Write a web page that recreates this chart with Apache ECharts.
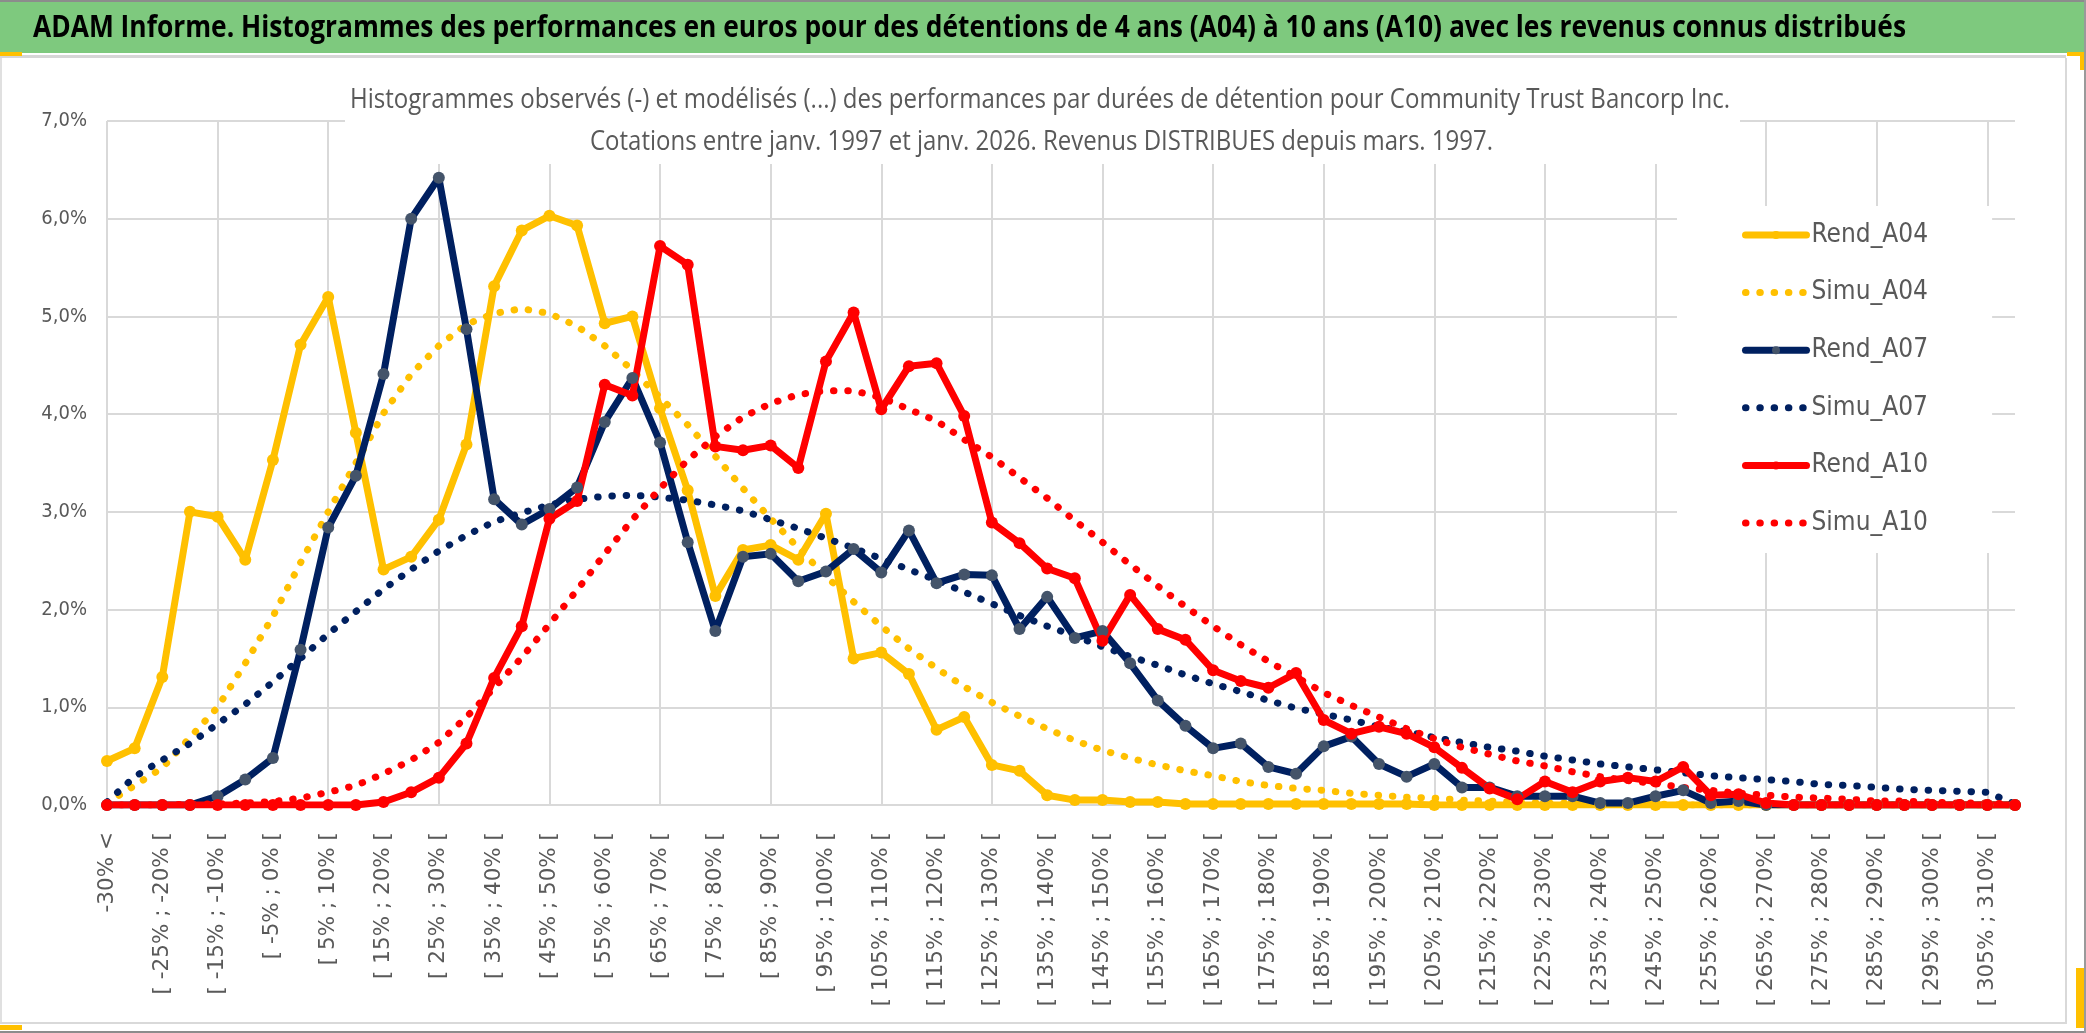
<!DOCTYPE html>
<html>
<head>
<meta charset="utf-8">
<script src="https://cdn.jsdelivr.net/npm/echarts@6/dist/echarts.min.js"></script>
<style>
html,body{margin:0;padding:0;background:#fff;}
#chart{width:2086px;height:1033px;}
</style>
</head>
<body>
<div id="chart"></div>
<script>
var categories = ["-30% <","[ -30% ; -25% [","[ -25% ; -20% [","[ -20% ; -15% [","[ -15% ; -10% [","[ -10% ; -5% [","[ -5% ; 0% [","[ 0% ; 5% [","[ 5% ; 10% [","[ 10% ; 15% [",
"[ 15% ; 20% [","[ 20% ; 25% [","[ 25% ; 30% [","[ 30% ; 35% [","[ 35% ; 40% [","[ 40% ; 45% [","[ 45% ; 50% [","[ 50% ; 55% [","[ 55% ; 60% [","[ 60% ; 65% [",
"[ 65% ; 70% [","[ 70% ; 75% [","[ 75% ; 80% [","[ 80% ; 85% [","[ 85% ; 90% [","[ 90% ; 95% [","[ 95% ; 100% [","[ 100% ; 105% [","[ 105% ; 110% [","[ 110% ; 115% [",
"[ 115% ; 120% [","[ 120% ; 125% [","[ 125% ; 130% [","[ 130% ; 135% [","[ 135% ; 140% [","[ 140% ; 145% [","[ 145% ; 150% [","[ 150% ; 155% [","[ 155% ; 160% [","[ 160% ; 165% [",
"[ 165% ; 170% [","[ 170% ; 175% [","[ 175% ; 180% [","[ 180% ; 185% [","[ 185% ; 190% [","[ 190% ; 195% [","[ 195% ; 200% [","[ 200% ; 205% [","[ 205% ; 210% [","[ 210% ; 215% [",
"[ 215% ; 220% [","[ 220% ; 225% [","[ 225% ; 230% [","[ 230% ; 235% [","[ 235% ; 240% [","[ 240% ; 245% [","[ 245% ; 250% [","[ 250% ; 255% [","[ 255% ; 260% [","[ 260% ; 265% [",
"[ 265% ; 270% [","[ 270% ; 275% [","[ 275% ; 280% [","[ 280% ; 285% [","[ 285% ; 290% [","[ 290% ; 295% [","[ 295% ; 300% [","[ 300% ; 305% [","[ 305% ; 310% [","> 310%"];

var rendA04 = [0.45,0.58,1.31,3.00,2.95,2.51,3.53,4.71,5.20,3.81,
2.41,2.54,2.92,3.69,5.31,5.88,6.03,5.93,4.93,5.00,
4.06,3.22,2.14,2.61,2.66,2.51,2.98,1.50,1.56,1.34,
0.77,0.90,0.41,0.35,0.10,0.05,0.05,0.03,0.03,0.01,
0.01,0.01,0.01,0.01,0.01,0.01,0.01,0.01,0,0,
0,0,0,0,0,0,0,0,0,0,
0,0,0,0,0,0,0,0,0,0];

var simuA04 = [0.02,0.20,0.38,0.69,1.00,1.45,1.93,2.48,3.00,3.50,
4.01,4.41,4.70,4.92,5.03,5.08,5.03,4.90,4.70,4.45,
4.17,3.89,3.57,3.24,2.93,2.63,2.34,2.08,1.83,1.60,
1.40,1.21,1.05,0.91,0.78,0.66,0.56,0.48,0.41,0.35,
0.30,0.24,0.20,0.17,0.15,0.12,0.10,0.08,0.07,0.05,
0.04,0.03,0.02,0.02,0.01,0.01,0.01,0,0,0,
0,0,0,0,0,0,0,0,0,0];

var rendA07 = [0,0,0,0,0.09,0.26,0.48,1.59,2.84,3.37,
4.41,6.00,6.42,4.87,3.13,2.87,3.03,3.25,3.92,4.37,
3.71,2.69,1.78,2.54,2.57,2.29,2.39,2.62,2.38,2.81,
2.27,2.36,2.35,1.80,2.13,1.71,1.78,1.45,1.07,0.81,
0.58,0.63,0.39,0.32,0.60,0.70,0.42,0.29,0.42,0.18,
0.18,0.09,0.09,0.09,0.02,0.02,0.09,0.15,0.02,0.04,
0,0,0,0,0,0,0,0,0,0];

var simuA07 = [0.03,0.29,0.46,0.63,0.83,1.03,1.26,1.50,1.75,1.98,
2.21,2.41,2.60,2.76,2.90,2.99,3.07,3.13,3.16,3.17,
3.15,3.12,3.07,3.01,2.92,2.83,2.73,2.63,2.52,2.41,
2.30,2.18,2.06,1.94,1.83,1.73,1.62,1.52,1.43,1.33,
1.24,1.16,1.07,0.99,0.93,0.87,0.80,0.75,0.69,0.64,
0.59,0.55,0.50,0.46,0.42,0.39,0.36,0.33,0.30,0.28,
0.26,0.24,0.21,0.20,0.18,0.16,0.15,0.14,0.13,0.01];

var rendA10 = [0,0,0,0,0,0,0,0,0,0,
0.03,0.13,0.28,0.63,1.30,1.83,2.93,3.11,4.30,4.19,
5.72,5.53,3.67,3.63,3.68,3.45,4.54,5.04,4.05,4.49,
4.52,3.98,2.89,2.68,2.42,2.32,1.68,2.15,1.80,1.69,
1.38,1.27,1.20,1.35,0.87,0.73,0.80,0.73,0.59,0.38,
0.17,0.06,0.24,0.13,0.24,0.28,0.24,0.39,0.10,0.11,
0.02,0,0,0,0,0,0,0,0,0];

var simuA10 = [0,0,0,0.01,0.01,0.02,0.035,0.07,0.13,0.20,
0.32,0.46,0.64,0.90,1.20,1.51,1.85,2.20,2.57,2.92,
3.24,3.53,3.77,3.97,4.11,4.20,4.24,4.24,4.17,4.05,
3.93,3.74,3.56,3.35,3.14,2.91,2.69,2.46,2.24,2.03,
1.83,1.64,1.47,1.31,1.15,1.02,0.90,0.78,0.68,0.59,
0.52,0.45,0.40,0.34,0.29,0.25,0.22,0.18,0.15,0.12,
0.10,0.08,0.07,0.06,0.04,0.04,0.03,0.02,0.02,0.01];

var yTicks = [0,1,2,3,4,5,6,7];

var mainTitle = 'ADAM Informe. Histogrammes des performances en euros pour des détentions de 4 ans (A04) à 10 ans (A10) avec les revenus connus distribués';
var subTitle1 = 'Histogrammes observés (-) et modélisés (...) des performances par durées de détention pour Community Trust Bancorp Inc.';
var subTitle2 = 'Cotations entre janv. 1997 et janv. 2026. Revenus DISTRIBUES depuis mars. 1997.';

var NARROW = "'DejaVu Sans Condensed','Liberation Sans Narrow',sans-serif";
var HUMAN = "'Open Sans'";
var GRAY = '#595959';
var GRID = '#D9D9D9';
var YEL = '#FFC000', NAVY = '#002060', NAVYMK = '#44546A', RED = '#FF0000';

// horizontal squeeze so that text of a regular font occupies the width of the original condensed font
var measureCtx = document.createElement('canvas').getContext('2d');
function fitScale(text, font, targetWidth) {
  measureCtx.font = font;
  var w = measureCtx.measureText(text).width;
  return w > 0 ? targetWidth / w : 1;
}
var sMain = fitScale(mainTitle, 'bold 31px ' + HUMAN, 1873);
var sSub1 = fitScale(subTitle1, '28px ' + HUMAN, 1380);
var sSub2 = fitScale(subTitle2, '28px ' + HUMAN, 903);

function txt(text, x, y, scale, size, weight, color, align) {
  return {
    type: 'text', x: x, y: y, scaleX: scale, scaleY: 1, z: 20,
    style: {
      text: text, fontFamily: HUMAN, fontSize: size, fontWeight: weight, fill: color,
      align: align, textAlign: align, verticalAlign: 'middle', textVerticalAlign: 'middle'
    }
  };
}

function solid(name, data, lineColor, markColor) {
  return {
    name: name, type: 'line', data: data,
    symbol: 'circle', symbolSize: 12, showAllSymbol: true,
    lineStyle: { color: lineColor, width: 7, cap: 'round', join: 'round' },
    itemStyle: { color: markColor },
    emphasis: { disabled: true }
  };
}
function dotted(name, data, color) {
  return {
    name: name, type: 'line', data: data,
    symbol: 'none', showSymbol: false,
    lineStyle: { color: color, width: 7, type: [0.5, 13.8], cap: 'round', join: 'round' },
    itemStyle: { color: color },
    emphasis: { disabled: true }
  };
}

var chart = echarts.init(document.getElementById('chart'), null, { renderer: 'canvas' });
chart.setOption({
  animation: false,
  backgroundColor: '#ffffff',
  graphic: [
    { type: 'rect', z: -10, shape: { x: 0, y: 0, width: 2086, height: 2 }, style: { fill: '#8C8C8C' } },
    { type: 'rect', z: -10, shape: { x: 0, y: 2, width: 2086, height: 51 }, style: { fill: '#7EC97E' } },
    { type: 'rect', z: -10, shape: { x: 0, y: 55, width: 2066, height: 3 }, style: { fill: '#D6D6D6' } },
    { type: 'rect', z: -10, shape: { x: 0, y: 52, width: 22, height: 4 }, style: { fill: YEL } },
    { type: 'rect', z: -10, shape: { x: 0, y: 58, width: 2, height: 966 }, style: { fill: '#E0E0E0' } },
    { type: 'rect', z: -10, shape: { x: 2065, y: 58, width: 2, height: 966 }, style: { fill: GRID } },
    { type: 'rect', z: -10, shape: { x: 0, y: 1022, width: 2067, height: 2 }, style: { fill: GRID } },
    { type: 'rect', z: -10, shape: { x: 0, y: 1025, width: 22, height: 5 }, style: { fill: YEL } },
    { type: 'rect', z: -10, shape: { x: 2067, y: 52, width: 19, height: 4 }, style: { fill: YEL } },
    { type: 'rect', z: -10, shape: { x: 2080, y: 52, width: 6, height: 18 }, style: { fill: YEL } },
    { type: 'rect', z: -10, shape: { x: 2076, y: 968, width: 10, height: 60 }, style: { fill: YEL } },
    { type: 'rect', z: -10, shape: { x: 0, y: 1031, width: 2086, height: 2 }, style: { fill: '#8C8C8C' } },
    { type: 'rect', z: -10, shape: { x: 2084, y: 0, width: 2, height: 1033 }, style: { fill: '#9A9A9A' } },
    // white box behind the chart title (hides the grid lines as in the original)
    { type: 'rect', z: 15, shape: { x: 345, y: 66, width: 1395, height: 98 }, style: { fill: '#ffffff' } },
    txt(mainTitle, 33, 28, sMain, 31, 'bold', '#000000', 'left'),
    txt(subTitle1, 1040, 100, sSub1, 28, 'normal', GRAY, 'center'),
    txt(subTitle2, 1041.5, 142, sSub2, 28, 'normal', GRAY, 'center')
  ],
  legend: {
    orient: 'vertical', left: 1677, top: 206,
    padding: [14, 64, 15, 65],
    backgroundColor: '#ffffff',
    itemWidth: 61, itemHeight: 10, itemGap: 27.6,
    lineStyle: { width: 7 },
    textStyle: { fontFamily: NARROW, fontSize: 26, color: GRAY, lineHeight: 30 },
    data: [
      { name: 'Rend_A04' },
      { name: 'Simu_A04', itemStyle: { opacity: 0 } },
      { name: 'Rend_A07' },
      { name: 'Simu_A07', itemStyle: { opacity: 0 } },
      { name: 'Rend_A10' },
      { name: 'Simu_A10', itemStyle: { opacity: 0 } }
    ]
  },
  grid: { left: 107, right: 71, top: 121, bottom: 228, containLabel: false },
  xAxis: {
    type: 'category', data: categories, boundaryGap: false,
    axisLine: { show: true, lineStyle: { color: GRID, width: 2 } },
    axisTick: { show: false },
    axisLabel: { interval: 1, rotate: 90, margin: 27, fontFamily: 'DejaVu Sans', fontSize: 21.5, color: GRAY },
    splitLine: { show: true, interval: 3, lineStyle: { color: GRID, width: 2 } }
  },
  yAxis: {
    type: 'value', min: yTicks[0], max: yTicks[yTicks.length - 1], interval: 1,
    axisLine: { show: false }, axisTick: { show: false },
    axisLabel: { margin: 20, fontFamily: NARROW, fontSize: 20, color: GRAY,
      formatter: function (v) { return v.toFixed(1).replace('.', ',') + '%'; } },
    splitLine: { show: true, lineStyle: { color: GRID, width: 2 } }
  },
  series: [
    solid('Rend_A04', rendA04, YEL, YEL),
    dotted('Simu_A04', simuA04, YEL),
    solid('Rend_A07', rendA07, NAVY, NAVYMK),
    dotted('Simu_A07', simuA07, NAVY),
    solid('Rend_A10', rendA10, RED, RED),
    dotted('Simu_A10', simuA10, RED)
  ]
});
</script>
</body>
</html>
